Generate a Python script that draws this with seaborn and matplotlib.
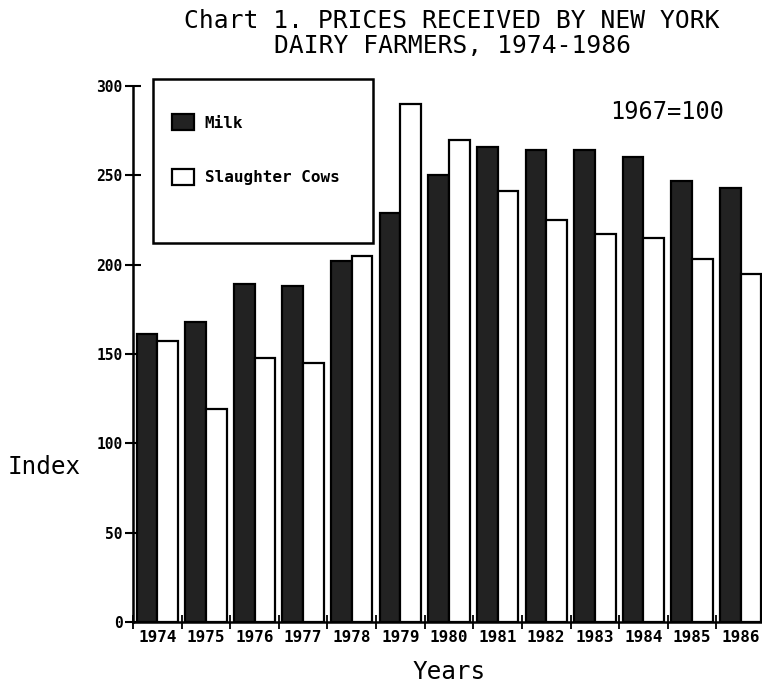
import matplotlib
matplotlib.use("Agg")
import matplotlib.pyplot as plt
import seaborn as sns
import pandas as pd
from matplotlib.patches import Rectangle, Patch
from matplotlib.ticker import FixedLocator

years = ["1974", "1975", "1976", "1977", "1978", "1979", "1980",
         "1981", "1982", "1983", "1984", "1985", "1986"]
milk = [161, 168, 189, 188, 202, 229, 250, 266, 264, 264, 260, 247, 243]
slaughter_cows = [157, 119, 148, 145, 205, 290, 270, 241, 225, 217, 215, 203, 195]
series_names = ["Milk", "Slaughter Cows"]
yticks = [0, 50, 100, 150, 200, 250, 300]

df = pd.DataFrame({
    "Year": years * 2,
    "Index": milk + slaughter_cows,
    "Series": [series_names[0]] * len(years) + [series_names[1]] * len(years),
})

sns.set_style("white")
plt.rcParams["font.family"] = ["DejaVu Sans Mono", "DejaVu Sans"]
plt.rcParams["text.color"] = "black"
plt.rcParams["axes.labelcolor"] = "black"
plt.rcParams["xtick.color"] = "black"
plt.rcParams["ytick.color"] = "black"

fig = plt.figure(figsize=(7.62, 6.90), dpi=100)
W, H = 762, 690
ax = fig.add_axes([133 / W, (H - 622) / H, 632 / W, 536 / H])

palette = {"Milk": "#222222", "Slaughter Cows": "white"}
sns.barplot(data=df, x="Year", y="Index", hue="Series", order=years,
            hue_order=series_names, palette=palette, width=0.85,
            edgecolor="black", linewidth=1.6, saturation=1, legend=False, ax=ax)

ax.set_xlim(-0.5, len(years) - 0.5)
ax.set_ylim(0, 300)
for s in ["top", "right"]:
    ax.spines[s].set_visible(False)
for s in ["left", "bottom"]:
    ax.spines[s].set_linewidth(1.8)
    ax.spines[s].set_color("black")

ax.set_yticks(yticks)
ax.set_yticklabels([str(v) for v in yticks], fontweight="bold", fontsize=10.5)
ax.tick_params(axis="y", direction="inout", length=11, width=1.5, pad=2, left=True)

ax.set_xticks(range(len(years)))
ax.set_xticklabels(years, fontweight="bold", fontsize=11.5)
ax.tick_params(axis="x", which="major", length=0, pad=6)
ax.xaxis.set_minor_locator(FixedLocator([i - 0.5 for i in range(len(years) + 1)]))
ax.tick_params(axis="x", which="minor", direction="inout", length=10, width=1.3, bottom=True)

ax.set_ylabel("Index", rotation=0, fontsize=17.5, ha="right", va="center")
ax.yaxis.set_label_coords(-0.082, 0.289)
ax.set_xlabel("Years", fontsize=17.5, va="center")
ax.xaxis.set_label_coords(0.5, -0.093)

ax.text(0.755, 0.951, "1967=100", transform=ax.transAxes, fontsize=17,
        ha="left", va="center")

fig.text(452 / W, 1 - 9 / H, "Chart 1. PRICES RECEIVED BY NEW YORK\nDAIRY FARMERS, 1974-1986",
         ha="center", va="top", fontsize=17.7, linespacing=1.05)

# legend frame
fig.patches.append(Rectangle((153 / W, 1 - 243 / H), 220 / W, 164 / H,
                             transform=fig.transFigure, fill=False,
                             edgecolor="black", linewidth=1.8, zorder=5))
handles = [Patch(facecolor=palette[n], edgecolor="black", linewidth=1.6) for n in series_names]
fig.legend(handles, series_names, loc="upper left",
           bbox_to_anchor=(172 / W, 1 - 114 / H), frameon=False,
           prop={"weight": "bold", "size": 11.5, "family": "DejaVu Sans Mono"},
           handlelength=1.35, handleheight=1.2, handletextpad=0.7,
           labelspacing=2.4, borderpad=0, borderaxespad=0)

fig.savefig("out.png", dpi=100)
